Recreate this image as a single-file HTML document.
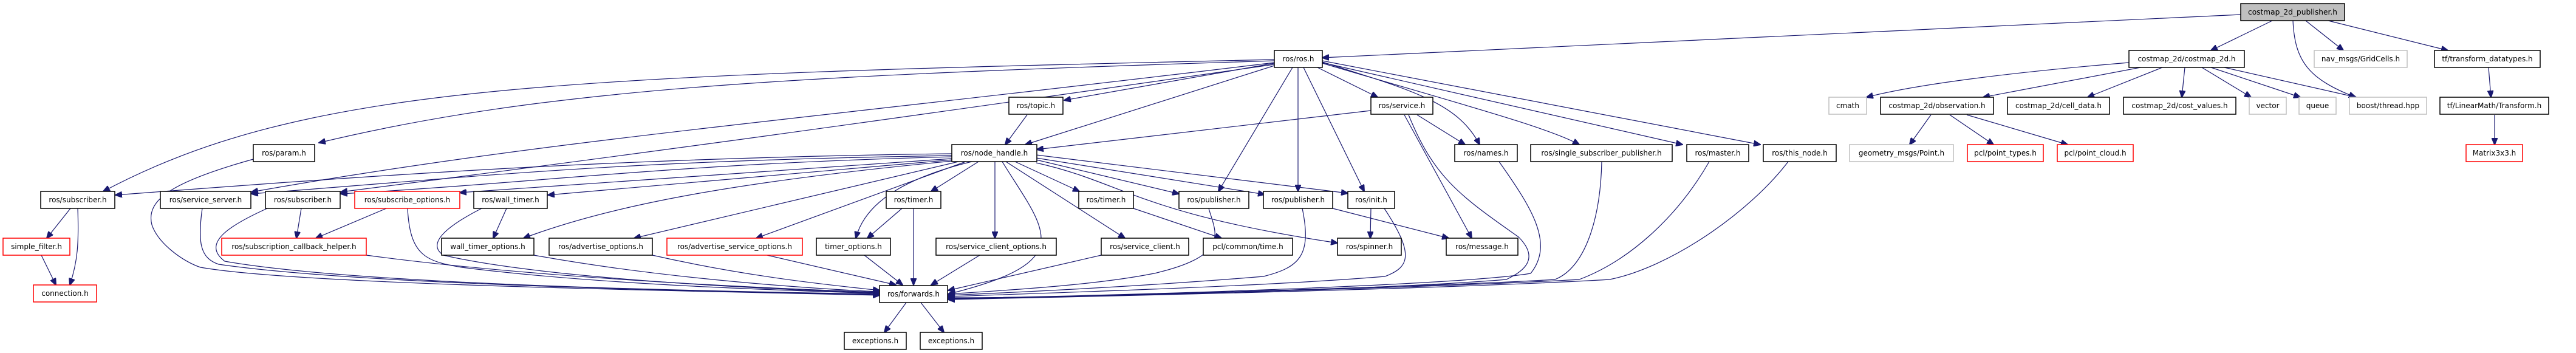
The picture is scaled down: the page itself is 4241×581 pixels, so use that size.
<!DOCTYPE html>
<html><head><meta charset="utf-8"><style>
html,body{margin:0;padding:0;background:#fff;}
svg{display:block;}
text{font-family:"DejaVu Sans","Liberation Sans",sans-serif;font-size:12px;fill:#000;text-anchor:middle;}
.b{fill:#fff;stroke:#000;stroke-width:1.5;}
.g{fill:#fff;stroke:#bfbfbf;stroke-width:1.5;}
.r{fill:#fff;stroke:#ff0000;stroke-width:1.5;}
.t{text-anchor:middle;}
path{fill:none;stroke:#191970;stroke-width:1.2;}
</style></head><body>
<svg width="4241" height="581" viewBox="0 0 4241 581" xmlns="http://www.w3.org/2000/svg">
<defs><marker id="a" markerUnits="userSpaceOnUse" markerWidth="12" markerHeight="10" refX="11" refY="5" orient="auto"><path d="M0,0 L12,5 L0,10 Z" style="fill:#191970;stroke:#191970"/></marker></defs>
<g marker-end="url(#a)">
<!-- publisher -->
<path d="M3689,24 L2177,95"/>
<path d="M3741,34 L3640,83"/>
<path d="M3796,34 L3858,83"/>
<path d="M3775,34 C3778,100 3800,130 3878,160"/>
<path d="M3833,34 L4030,83"/>
<!-- costmap_2d -->
<path d="M3505,103 C3300,120 3150,140 3073,160"/>
<path d="M3524,111 L3265,160"/>
<path d="M3560,111 L3437,160"/>
<path d="M3597,111 L3592,160"/>
<path d="M3625,111 L3706,160"/>
<path d="M3640,111 L3787,160"/>
<path d="M3662,111 L3879,160"/>
<!-- observation -->
<path d="M3179,189 L3144,238"/>
<path d="M3210,189 L3282,238"/>
<path d="M3238,189 L3404,238"/>
<path d="M4097,111 L4101,160"/>
<path d="M4107,189 L4107,238"/>
<!-- ros.h -->
<path d="M2169,111 L2268,160"/>
<path d="M2177,102 C2330,150 2400,170 2436,238"/>
<path d="M2177,104 C2400,170 2550,210 2600,238"/>
<path d="M2177,103 L2770,238"/>
<path d="M2177,100 L2898,238"/>
<path d="M2137,111 L2137,315"/>
<path d="M2146,111 L2246,315"/>
<path d="M2128,111 L2006,315"/>
<path d="M2098,104 L1752,165"/>
<path d="M2098,108 L1688,238"/>
<path d="M2098,100 C1300,125 900,145 525,235"/>
<path d="M2098,98 C900,125 500,140 170,315"/>
<path d="M2098,103 C1300,200 900,230 414,316"/>
<path d="M2098,106 C1300,220 1000,260 561,316"/>
<!-- node_handle -->
<path d="M1568,253 C1000,260 600,290 190,321"/>
<path d="M1568,256 C1000,265 800,290 414,319"/>
<path d="M1568,258 C1100,270 900,300 561,319"/>
<path d="M1568,261 L757,317"/>
<path d="M1568,263 L902,321"/>
<path d="M1568,265 C1200,300 1000,340 862,392"/>
<path d="M1578,266 L1044,392"/>
<path d="M1590,266 L1245,392"/>
<path d="M1600,266 C1460,300 1420,350 1409,392"/>
<path d="M1611,266 L1533,315"/>
<path d="M1638,266 L1638,392"/>
<path d="M1650,266 C1720,380 1780,430 1561,484"/>
<path d="M1656,266 L1852,392"/>
<path d="M1671,266 L1777,315"/>
<path d="M1706,263 L1941,319"/>
<path d="M1706,260 L2082,320"/>
<path d="M1706,255 L2219,318"/>
<path d="M1706,268 C1850,300 1870,350 2202,400"/>
<path d="M1866,343 L2011,392"/>
<!-- service/topic -->
<path d="M1691,189 L1655,238"/>
<path d="M2257,182 L1707,246"/>
<path d="M2333,189 L2412,238"/>
<path d="M2312,189 L2423,392"/>
<path d="M2319,189 C2360,290 2400,320 2500,390 C2540,430 2500,450 2480,460 C2300,475 1800,490 1561,490"/>
<path d="M2468,266 C2520,340 2560,400 2520,450 C2400,470 1800,488 1561,491"/>
<path d="M2637,266 C2635,360 2610,440 2560,460 C2400,470 1800,488 1561,492"/>
<path d="M2814,266 C2760,360 2680,430 2600,460 C2400,472 1800,488 1561,492"/>
<path d="M2944,266 C2880,350 2750,440 2650,460 C2400,475 1800,488 1561,493"/>
<path d="M2144,343 C2160,420 2140,440 2080,455 C1900,470 1700,480 1561,486"/>
<path d="M2194,343 L2385,392"/>
<path d="M2257,343 L2256,392"/>
<path d="M2279,343 C2330,420 2320,440 2280,455 C2100,470 1800,480 1561,488"/>
<path d="M1990,343 C2000,380 2030,420 1900,450 C1800,470 1650,478 1561,484"/>
<!-- left side -->
<path d="M116,343 L77,392"/>
<path d="M128,343 C130,400 128,430 115,469"/>
<path d="M68,420 L92,469"/>
<path d="M417,262 C280,300 240,330 250,370 C260,400 300,430 330,440 C500,470 1200,480 1448,486"/>
<path d="M333,343 C325,400 330,425 360,435 C600,470 1200,480 1448,485"/>
<path d="M440,343 C380,370 330,400 370,430 C600,470 1200,480 1448,484"/>
<path d="M496,343 L488,392"/>
<path d="M636,343 L520,392"/>
<path d="M671,343 C675,420 700,430 760,440 C1000,470 1300,478 1448,483"/>
<path d="M793,343 C740,370 700,400 730,420 C900,460 1300,478 1448,482"/>
<path d="M834,343 L812,392"/>
<path d="M603,420 C900,460 1300,476 1448,481"/>
<path d="M879,420 C1100,460 1350,476 1448,480"/>
<path d="M1074,420 C1250,460 1400,472 1448,478"/>
<path d="M1263,420 L1475,469"/>
<path d="M1423,420 L1486,469"/>
<path d="M1485,343 L1428,392"/>
<path d="M1504,343 L1504,469"/>
<path d="M1613,420 L1533,469"/>
<path d="M1813,420 L1561,478"/>
<path d="M1492,498 L1456,547"/>
<path d="M1516,498 L1554,547"/>
</g>
<!-- nodes -->
<rect x="3689" y="6" width="171" height="28" style="fill:#bfbfbf;stroke:#000;stroke-width:1.5"/><text x="3774.5" y="24" textLength="147" lengthAdjust="spacingAndGlyphs">costmap_2d_publisher.h</text>
<rect class="b" x="2098" y="83" width="79" height="28"/><text x="2137.5" y="101">ros/ros.h</text>
<rect class="b" x="3505" y="83" width="190" height="28"/><text x="3600" y="101">costmap_2d/costmap_2d.h</text>
<rect class="g" x="3810" y="83" width="153" height="28"/><text x="3886.5" y="101">nav_msgs/GridCells.h</text>
<rect class="b" x="4008" y="83" width="174" height="28"/><text x="4095" y="101">tf/transform_datatypes.h</text>
<rect class="b" x="1661" y="160" width="89" height="28"/><text x="1705.5" y="178">ros/topic.h</text>
<rect class="b" x="2257" y="160" width="102" height="28"/><text x="2308" y="178">ros/service.h</text>
<rect class="g" x="3011" y="160" width="62" height="28"/><text x="3042" y="178">cmath</text>
<rect class="b" x="3096" y="160" width="186" height="28"/><text x="3189" y="178">costmap_2d/observation.h</text>
<rect class="b" x="3305" y="160" width="168" height="28"/><text x="3389" y="178">costmap_2d/cell_data.h</text>
<rect class="b" x="3496" y="160" width="185" height="28"/><text x="3588.5" y="178">costmap_2d/cost_values.h</text>
<rect class="g" x="3703" y="160" width="61" height="28"/><text x="3733.5" y="178">vector</text>
<rect class="g" x="3785" y="160" width="61" height="28"/><text x="3815.5" y="178">queue</text>
<rect class="g" x="3868" y="160" width="127" height="28"/><text x="3931.5" y="178">boost/thread.hpp</text>
<rect class="b" x="4017" y="160" width="179" height="28"/><text x="4106.5" y="178">tf/LinearMath/Transform.h</text>
<rect class="b" x="417" y="238" width="101" height="28"/><text x="467.5" y="256">ros/param.h</text>
<rect class="b" x="1567" y="238" width="140" height="28"/><text x="1637" y="256">ros/node_handle.h</text>
<rect class="b" x="2395" y="238" width="103" height="28"/><text x="2446.5" y="256">ros/names.h</text>
<rect class="b" x="2520" y="238" width="233" height="28"/><text x="2636.5" y="256">ros/single_subscriber_publisher.h</text>
<rect class="b" x="2777" y="238" width="102" height="28"/><text x="2828" y="256">ros/master.h</text>
<rect class="b" x="2903" y="238" width="120" height="28"/><text x="2963" y="256">ros/this_node.h</text>
<rect class="g" x="3045" y="238" width="171" height="28"/><text x="3130.5" y="256">geometry_msgs/Point.h</text>
<rect class="r" x="3239" y="238" width="125" height="28"/><text x="3301.5" y="256">pcl/point_types.h</text>
<rect class="r" x="3387" y="238" width="125" height="28"/><text x="3449.5" y="256">pcl/point_cloud.h</text>
<rect class="r" x="4060" y="238" width="93" height="28"/><text x="4106.5" y="256">Matrix3x3.h</text>
<rect class="b" x="67" y="315" width="122" height="28"/><text x="128" y="333">ros/subscriber.h</text>
<rect class="b" x="264" y="315" width="149" height="28"/><text x="338.5" y="333">ros/service_server.h</text>
<rect class="b" x="437" y="315" width="123" height="28"/><text x="498.5" y="333">ros/subscriber.h</text>
<rect class="r" x="584" y="315" width="173" height="28"/><text x="670.5" y="333">ros/subscribe_options.h</text>
<rect class="b" x="780" y="315" width="121" height="28"/><text x="840.5" y="333">ros/wall_timer.h</text>
<rect class="b" x="1459" y="315" width="90" height="28"/><text x="1504" y="333">ros/timer.h</text>
<rect class="b" x="1776" y="315" width="90" height="28"/><text x="1821" y="333">ros/timer.h</text>
<rect class="b" x="1941" y="315" width="115" height="28"/><text x="1998.5" y="333">ros/publisher.h</text>
<rect class="b" x="2080" y="315" width="114" height="28"/><text x="2137" y="333">ros/publisher.h</text>
<rect class="b" x="2219" y="315" width="77" height="28"/><text x="2257.5" y="333">ros/init.h</text>
<rect class="r" x="5" y="392" width="110" height="28"/><text x="60" y="410">simple_filter.h</text>
<rect class="r" x="365" y="392" width="238" height="28"/><text x="484" y="410">ros/subscription_callback_helper.h</text>
<rect class="b" x="727" y="392" width="152" height="28"/><text x="803" y="410">wall_timer_options.h</text>
<rect class="b" x="904" y="392" width="170" height="28"/><text x="989" y="410">ros/advertise_options.h</text>
<rect class="r" x="1098" y="392" width="223" height="28"/><text x="1209.5" y="410">ros/advertise_service_options.h</text>
<rect class="b" x="1344" y="392" width="122" height="28"/><text x="1405" y="410">timer_options.h</text>
<rect class="b" x="1541" y="392" width="198" height="28"/><text x="1640" y="410">ros/service_client_options.h</text>
<rect class="b" x="1813" y="392" width="144" height="28"/><text x="1885" y="410">ros/service_client.h</text>
<rect class="b" x="1981" y="392" width="147" height="28"/><text x="2054.5" y="410">pcl/common/time.h</text>
<rect class="b" x="2202" y="392" width="105" height="28"/><text x="2254.5" y="410">ros/spinner.h</text>
<rect class="b" x="2381" y="392" width="118" height="28"/><text x="2440" y="410">ros/message.h</text>
<rect class="r" x="55" y="469" width="104" height="28"/><text x="107" y="487">connection.h</text>
<rect class="b" x="1448" y="470" width="112" height="28"/><text x="1504" y="488">ros/forwards.h</text>
<rect class="b" x="1390" y="547" width="102" height="28"/><text x="1441" y="565">exceptions.h</text>
<rect class="b" x="1515" y="547" width="102" height="28"/><text x="1566" y="565">exceptions.h</text>
</svg>
</body></html>
